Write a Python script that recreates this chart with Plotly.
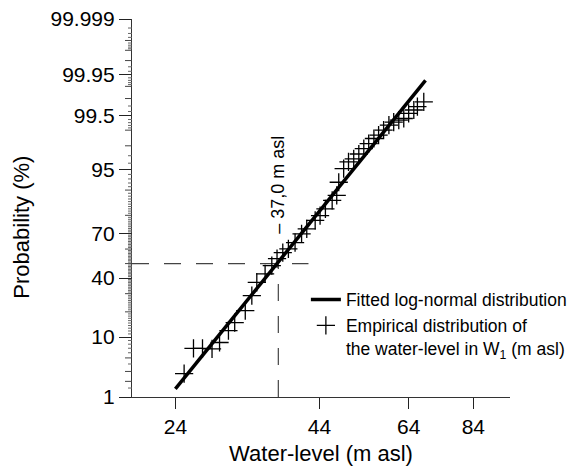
import math
from statistics import NormalDist
import plotly.graph_objects as go

# empirical distribution of the water-level (m asl) and its plotting probability (%)
water_level = [24.9, 25.9, 26.9, 28.0, 28.9, 30.0, 30.8, 32.2, 33.1, 33.8,
               35.0, 36.0, 36.8, 37.7, 38.6, 39.7, 40.8, 41.7, 43.2, 44.1,
               45.1, 46.4, 47.3, 47.7, 48.7, 49.7, 50.8, 51.9, 53.0, 54.1,
               55.3, 56.4, 57.6, 58.9, 60.1, 61.4, 62.7, 64.0, 65.4, 66.4, 68.2]
probability = [2.76, 6.98, 6.98, 6.86, 8.44, 12.1, 15.2, 20.6, 28.8, 37.2,
               42.9, 48.6, 53.5, 57.6, 60.1, 64.3, 69.8, 72.8, 77.4, 79.9,
               83.0, 86.5, 88.3, 92.2, 95.1, 96.2, 96.6, 97.2, 97.75, 98.18,
               98.54, 98.74, 99.0, 99.21, 99.32, 99.38, 99.43, 99.56, 99.63, 99.69, 99.76]

# fitted log-normal distribution (straight line on this paper)
fit_level = [24.0, 68.7]
fit_prob = [1.44, 99.93]

# median guide lines
median_level = 37.0
median_prob = 50.0
guide_level_end = 42.0

x_ticks = [24, 44, 64, 84]
y_ticks = [1, 10, 40, 70, 95, 99.5, 99.95, 99.999]
y_tick_text = ["1", "10", "40", "70", "95", "99.5", "99.95", "99.999"]
y_mid_ticks = [2, 3, 5, 20, 30, 50, 60, 80, 90, 98, 99, 99.8, 99.9, 99.98, 99.99, 99.995]
y_small_ticks = ([1.5, 4, 6, 7, 8, 9]
                 + [v for v in range(11, 90) if v % 10 != 0 and v not in (40, 70)]
                 + [91, 92, 93, 94, 96, 97]
                 + [99.1, 99.2, 99.3, 99.4, 99.6, 99.7]
                 + [99.91, 99.92, 99.93, 99.94, 99.96, 99.97]
                 + [99.991, 99.992, 99.993, 99.994, 99.996, 99.997, 99.998])

nd = NormalDist()


def z(p):
    return nd.inv_cdf(p / 100.0)


FONT = "Arial, Liberation Sans, sans-serif"
y_range = [z(1), z(99.999)]
PLOT_W = 586 - 132 - 76

fig = go.Figure()

# dashed guides at the median
fig.add_trace(go.Scatter(
    x=[20, guide_level_end], y=[z(median_prob)] * 2, mode="lines",
    line=dict(color="#444", width=1.2, dash="17px,15px"),
    showlegend=False, hoverinfo="skip"))
fig.add_trace(go.Scatter(
    x=[median_level, median_level], y=[z(1), z(median_prob)], mode="lines",
    line=dict(color="#444", width=1.2, dash="17px,15px"),
    showlegend=False, hoverinfo="skip"))

fig.add_trace(go.Scatter(
    x=fit_level, y=[z(p) for p in fit_prob], mode="lines",
    line=dict(color="black", width=3.5),
    name="Fitted log-normal distribution"))

fig.add_trace(go.Scatter(
    x=water_level, y=[z(p) for p in probability], mode="markers",
    marker=dict(symbol="cross-thin", size=13, line=dict(color="black", width=1.3)),
    name="Empirical distribution of<br>the water-level in W<sub>1</sub> (m asl)"))

# probability-paper minor ticks on the y axis (two lengths)
for vals, length, col in [(y_mid_ticks, 7, "#444"), (y_small_ticks, 4, "#666")]:
    for v in vals:
        fig.add_shape(type="line", xref="paper", yref="y",
                      x0=-length / PLOT_W, x1=0, y0=z(v), y1=z(v),
                      line=dict(color=col, width=1))

fig.update_layout(
    width=586, height=470,
    margin=dict(l=132, r=76, t=19, b=73, autoexpand=False),
    paper_bgcolor="white", plot_bgcolor="white",
    font=dict(family=FONT, color="black"),
    showlegend=True,
    legend=dict(x=0.46, y=0.305, xanchor="left", yanchor="top", valign="top",
                font=dict(size=17.5, family=FONT), bgcolor="rgba(0,0,0,0)",
                itemwidth=30, tracegroupgap=0),
    xaxis=dict(
        type="log", range=[math.log10(20), math.log10(98)],
        tickmode="array", tickvals=x_ticks, ticktext=[str(v) for v in x_ticks],
        ticks="outside", ticklen=11, tickwidth=1.2, tickcolor="#222",
        showline=True, linecolor="#333", linewidth=1.2,
        showgrid=False, zeroline=False, automargin=False,
        tickfont=dict(size=21),
        title=dict(text="Water-level (m asl)", font=dict(size=22), standoff=8)),
    yaxis=dict(
        range=y_range,
        tickmode="array", tickvals=[z(v) for v in y_ticks], ticktext=y_tick_text,
        ticks="outside", ticklen=12, tickwidth=1.2, tickcolor="#222",
        showline=True, linecolor="#333", linewidth=1.2,
        showgrid=False, zeroline=False, automargin=False,
        tickfont=dict(size=21)),
)

fig.add_annotation(
    text="Probability (%)", textangle=-90, showarrow=False,
    xref="paper", yref="paper", x=-0.291, y=0.448,
    xanchor="center", yanchor="middle", font=dict(size=22))

fig.add_annotation(
    text="– 37,0 m asl", textangle=-90, showarrow=False,
    xref="x", yref="y", x=math.log10(median_level), y=z(68.8),
    xanchor="center", yanchor="bottom", font=dict(size=18))

# remove the default page margin so the figure sits at the window's corner
fig.write_html("out.html", config={"displayModeBar": False},
               post_script="document.body.style.margin='0';")
